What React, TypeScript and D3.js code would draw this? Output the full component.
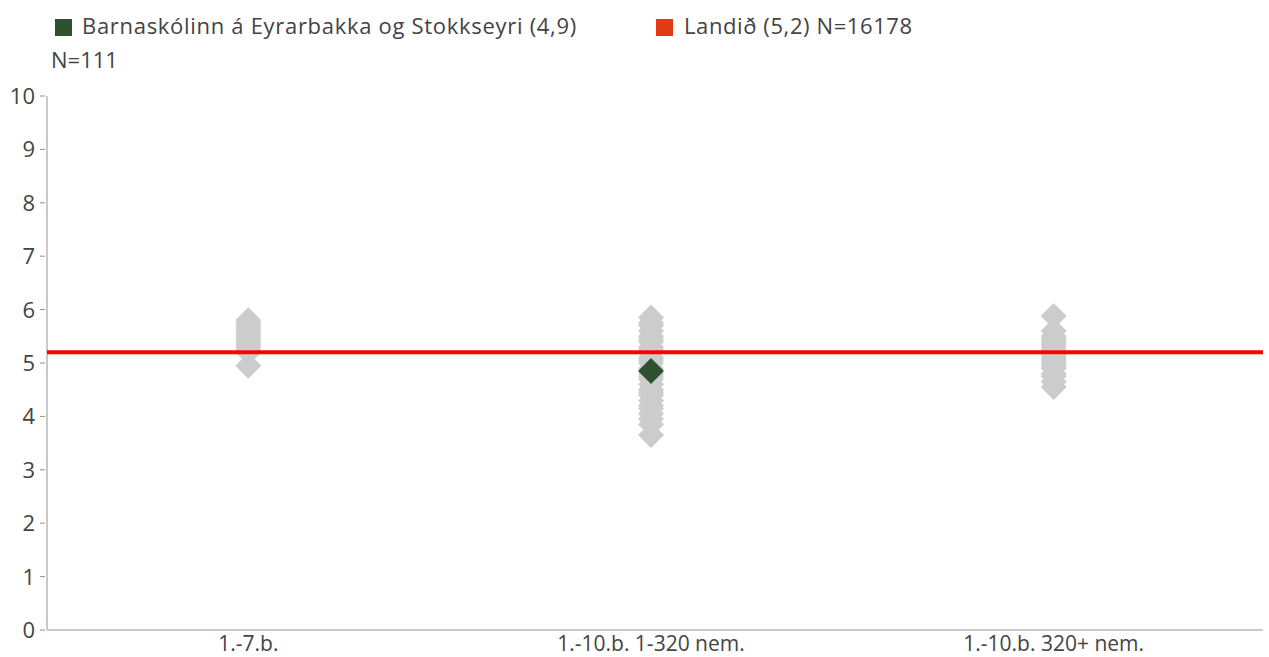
import React from 'react';
import * as d3 from 'd3';

// categories on the x axis
const categories = ['1.-7.b.', '1.-10.b. 1-320 nem.', '1.-10.b. 320+ nem.'];

// gray diamonds: school averages in each group
const group1 = [4.95, 5.2, 5.25, 5.3, 5.35, 5.4, 5.45, 5.5, 5.55, 5.6, 5.65, 5.7, 5.75, 5.8];
const group2 = [3.65, 3.85, 3.95, 4.05, 4.15, 4.2, 4.3, 4.4, 4.45, 4.5, 4.6, 4.7, 4.75, 4.8, 4.9, 5.0,
  5.05, 5.1, 5.2, 5.25, 5.3, 5.4, 5.45, 5.5, 5.6, 5.7, 5.75, 5.85];
const group3 = [4.55, 4.65, 4.75, 4.8, 4.9, 4.95, 5.0, 5.05, 5.1, 5.15, 5.2, 5.25, 5.3, 5.35, 5.4,
  5.45, 5.5, 5.6, 5.88];
const groups = [group1, group2, group3];

// the school itself
const schoolCategory = '1.-10.b. 1-320 nem.';
const schoolValue = 4.85;
const nationalValue = 5.2;

const yTicks = [0, 1, 2, 3, 4, 5, 6, 7, 8, 9, 10];

const legendSchool = 'Barnaskólinn á Eyrarbakka og Stokkseyri (4,9)';
const legendSchoolN = 'N=111';
const legendNational = 'Landið (5,2) N=16178';

const W = 1269;
const H = 657;
const left = 47;
const right = 1263;
const top = 96;
const bottom = 630;

const font = '"Open Sans", "Noto Sans", sans-serif';
const textColor = '#444444';
const axisColor = '#c9c9c9';

export default function App() {
  const x = d3.scaleBand().domain(categories).range([left, right - 8]).padding(0);
  const y = d3.scaleLinear().domain([0, 10]).range([bottom, top]);
  const r = 13;
  const diamond = (cx: number, cy: number) =>
    `M${cx},${cy - r}L${cx + r},${cy}L${cx},${cy + r}L${cx - r},${cy}Z`;
  const cx = (c: string) => (x(c) as number) + x.bandwidth() / 2;

  return (
    <svg width={W} height={H} style={{ position: 'absolute', left: 0, top: 0 }}>
      {/* legend */}
      <rect x={55} y={19} width={17} height={17} fill="#2e5230" />
      <text x={82} y={34} fontFamily={font} fontSize={22} letterSpacing={0.7} fill={textColor}>{legendSchool}</text>
      <text x={51} y={68} fontFamily={font} fontSize={22} fill={textColor}>{legendSchoolN}</text>
      <rect x={656} y={19} width={17} height={17} fill="#e03a14" />
      <text x={684} y={34} fontFamily={font} fontSize={22} letterSpacing={0.6} fill={textColor}>{legendNational}</text>

      {/* y axis */}
      <line x1={left} x2={left} y1={top} y2={bottom} stroke={axisColor} strokeWidth={2} />
      {yTicks.map(t => (
        <g key={t}>
          <line x1={left - 7} x2={left - 2} y1={y(t)} y2={y(t)} stroke="#909090" strokeWidth={1} />
          <text x={left - 12} y={y(t)} dy="0.36em" textAnchor="end" fontFamily={font} fontSize={22} fill={textColor}>{t}</text>
        </g>
      ))}

      {/* x axis */}
      <line x1={left} x2={right} y1={bottom} y2={bottom} stroke={axisColor} strokeWidth={2} />
      {categories.map(c => (
        <text key={c} x={cx(c)} y={bottom + 21} textAnchor="middle" fontFamily={font} fontSize={21} fill={textColor}>{c}</text>
      ))}

      {/* gray diamonds */}
      {groups.map((vals, i) =>
        vals.map((v, j) => (
          <path key={i + '-' + j} d={diamond(cx(categories[i]), y(v))} fill="#cccccc" />
        ))
      )}

      {/* national line */}
      <line x1={left} x2={right} y1={y(nationalValue)} y2={y(nationalValue)} stroke="#ff0000" strokeWidth={4} />

      {/* school diamond */}
      <path d={diamond(cx(schoolCategory), y(schoolValue))} fill="#2e5230" />
    </svg>
  );
}
